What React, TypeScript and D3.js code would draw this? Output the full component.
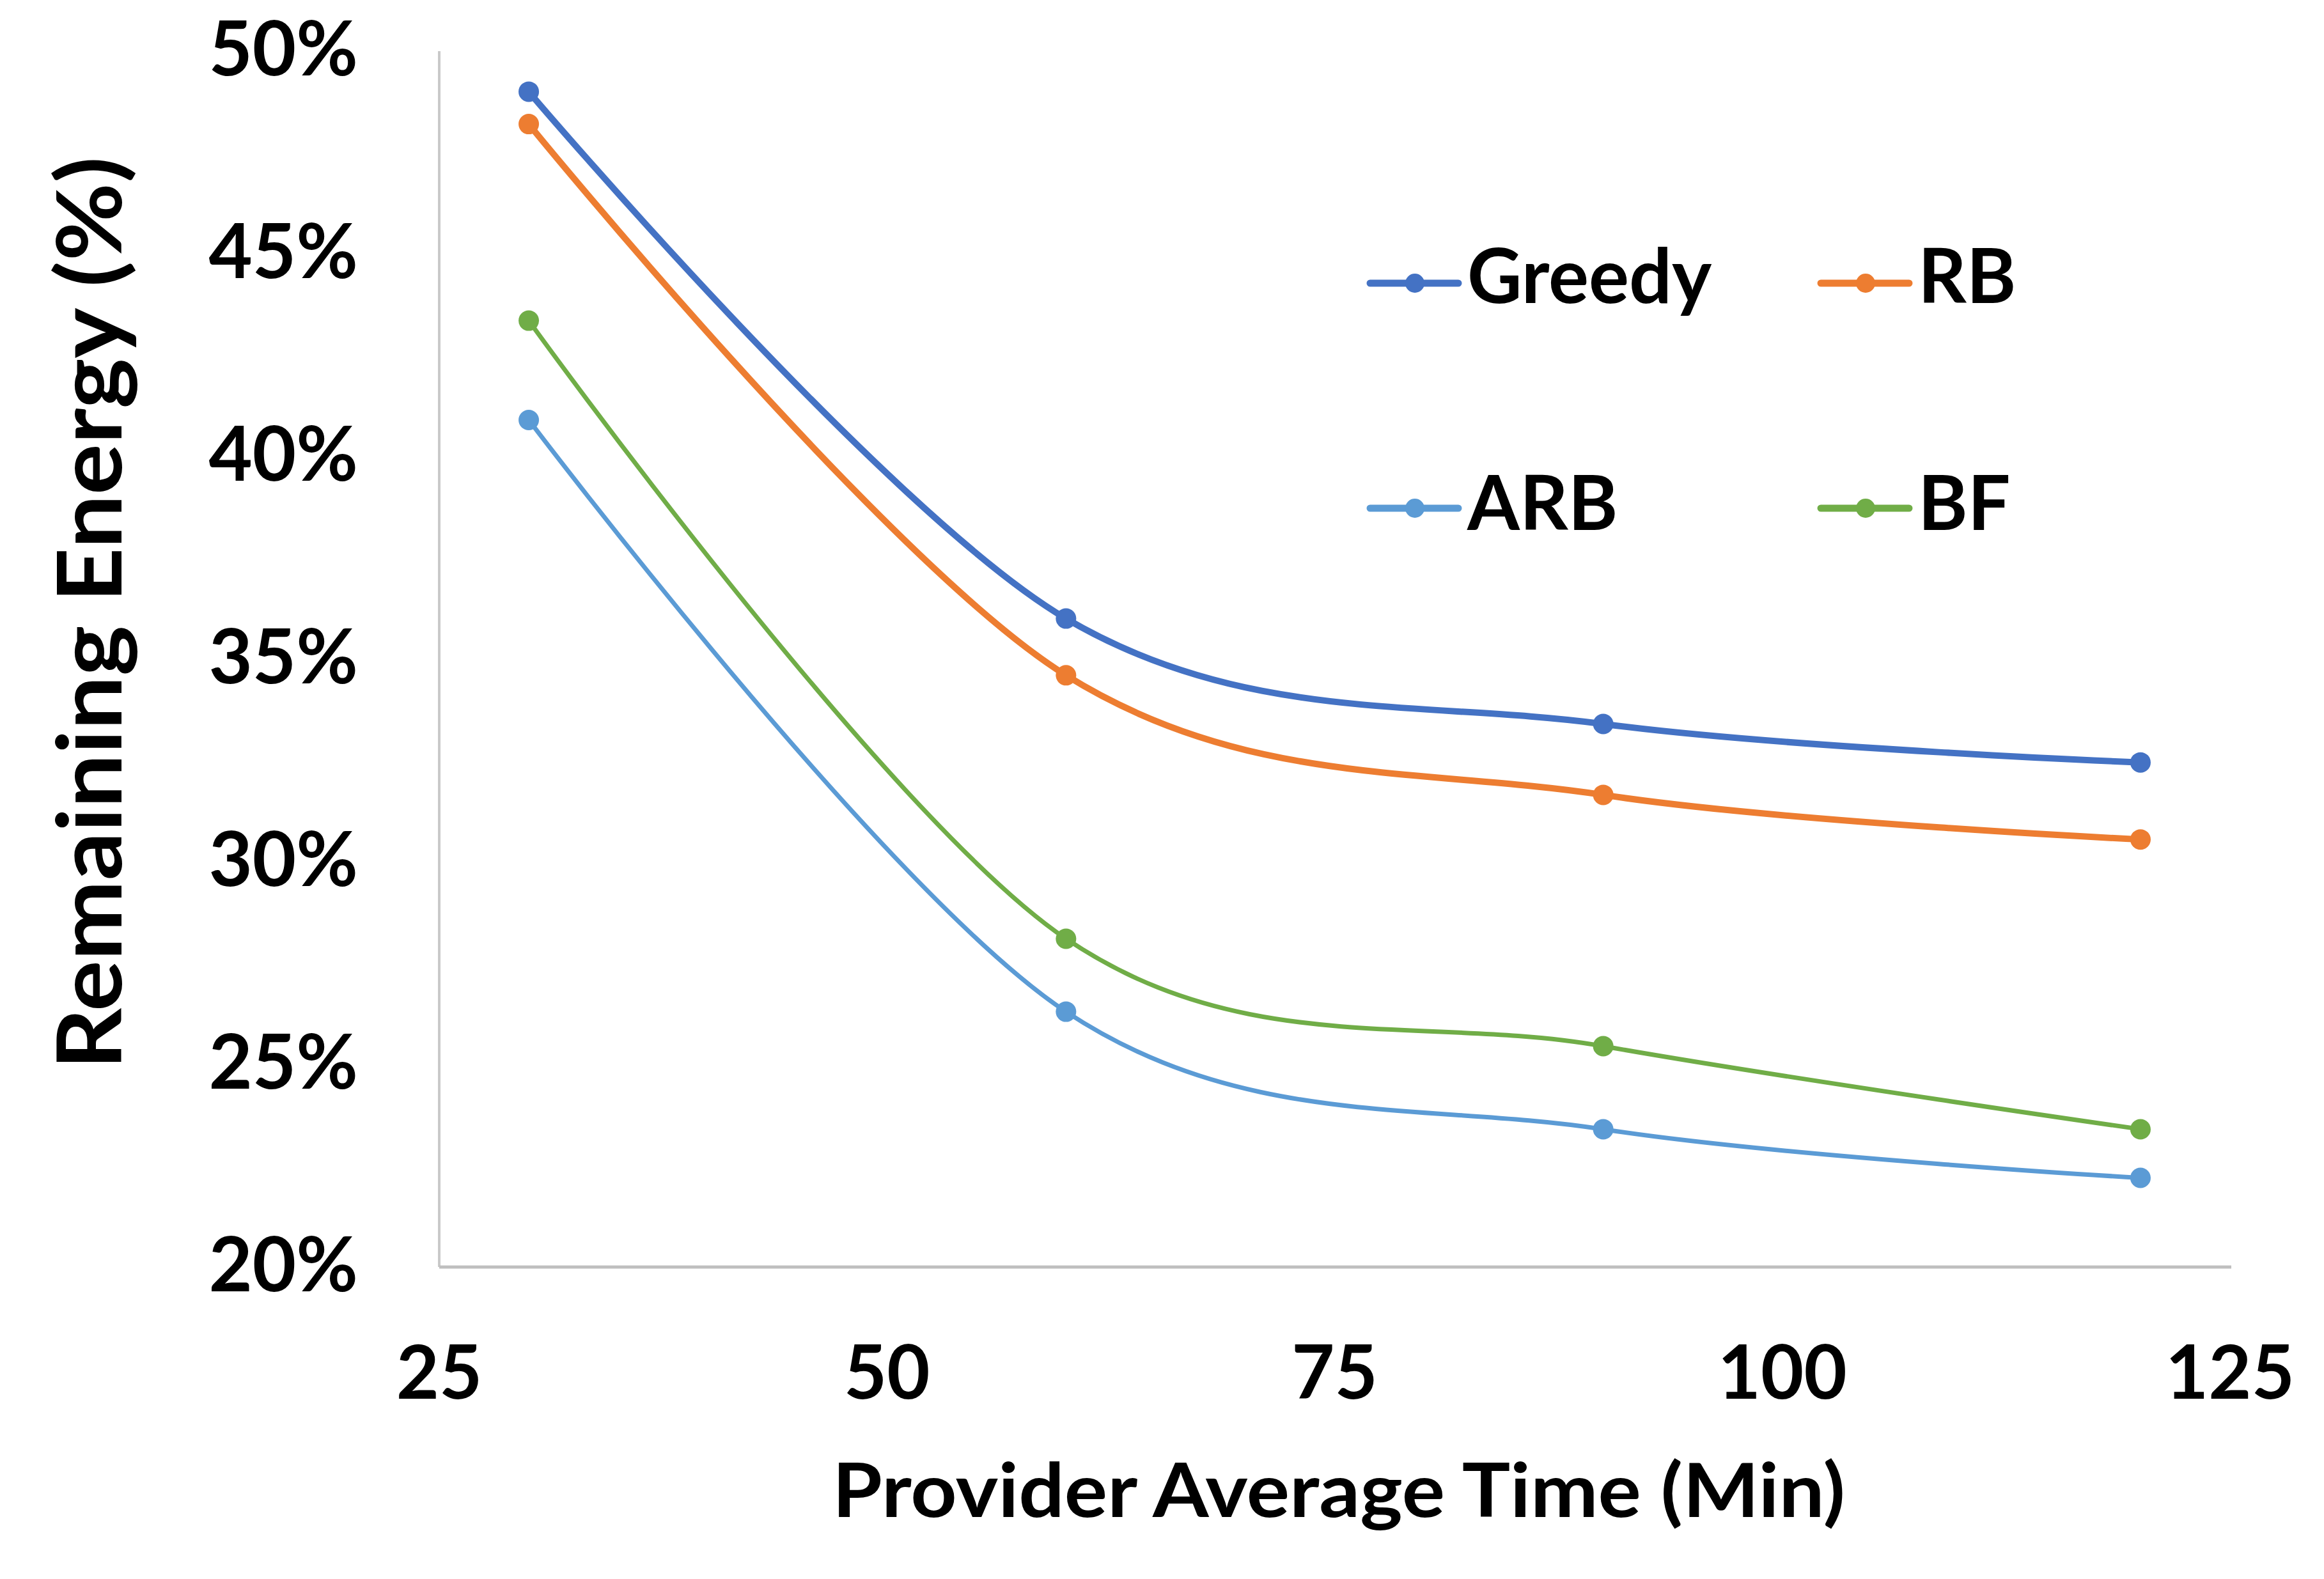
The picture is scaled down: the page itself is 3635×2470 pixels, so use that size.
import * as d3 from 'd3';

const W = 3635, H = 2470;

const times = [30, 60, 90, 120];
const greedy = [49.0, 36.0, 33.4, 32.45];
const rb = [48.2, 34.6, 31.65, 30.55];
const arb = [40.9, 26.3, 23.4, 22.2];
const bf = [43.35, 28.1, 25.45, 23.4];

const xTicks = [25, 50, 75, 100, 125];
const yTicks = [20, 25, 30, 35, 40, 45, 50];

const SERIES = [
  { name: 'Greedy', values: greedy, color: '#4472C4', width: 10 },
  { name: 'RB',     values: rb,     color: '#ED7D31', width: 10 },
  { name: 'ARB',    values: arb,    color: '#5B9BD5', width: 7 },
  { name: 'BF',     values: bf,     color: '#70AD47', width: 7 },
];

const FONT = 'Lato, "Open Sans", "Noto Sans", sans-serif';

export default function App() {
  const PAD = { t: 80, r: 3490, b: 1982, l: 687 };
  const x = d3.scaleLinear().domain([25, 125]).range([PAD.l, 3488]);
  const y = d3.scaleLinear().domain([20, 50]).range([PAD.b, PAD.t]);

  const line = d3.line<number>()
    .x((_, i) => x(times[i]))
    .y(d => y(d))
    .curve(d3.curveCardinal.tension(0));

  // legend slots: 2 columns x 2 rows
  const legendPos = [
    { lx: 2143, tx: 2295, ly: 443, ty: 474 },
    { lx: 2848, tx: 3000, ly: 443, ty: 474 },
    { lx: 2143, tx: 2295, ly: 795, ty: 829 },
    { lx: 2848, tx: 3000, ly: 795, ty: 829 },
  ];

  return (
    <svg width={W} height={H} viewBox={`0 0 ${W} ${H}`}
      style={{ position: 'absolute', left: 0, top: 0, background: '#fff' }}
      fontFamily={FONT} fontWeight={700}>
      <rect width={W} height={H} fill="#fff" />

      {/* axes */}
      <line x1={PAD.l} x2={PAD.l} y1={PAD.t} y2={PAD.b} stroke="#C9C9C9" strokeWidth={4} />
      <line x1={PAD.l} x2={PAD.r} y1={PAD.b} y2={PAD.b} stroke="#BFBFBF" strokeWidth={5} />

      {yTicks.map(t => (
        <text key={t} x={560} y={y(t) + 38} textAnchor="end" fontSize={118} fill="#000">{`${t}%`}</text>
      ))}
      {xTicks.map(t => (
        <text key={t} x={x(t)} y={2188} textAnchor="middle" fontSize={116} fill="#000">{t}</text>
      ))}

      <text x={2094} y={2373} textAnchor="middle" fontSize={116} textLength={1584}
        lengthAdjust="spacingAndGlyphs" fill="#000">Provider Average Time (Min)</text>
      <text transform={`translate(190,959) rotate(-90)`} textAnchor="middle" fontSize={140}
        textLength={1428} lengthAdjust="spacingAndGlyphs" fill="#000">Remaining Energy (%)</text>

      {/* series */}
      {SERIES.map(s => (
        <g key={s.name}>
          <path d={line(s.values) ?? ''} fill="none" stroke={s.color} strokeWidth={s.width} strokeLinecap="round" />
          {s.values.map((v, i) => (
            <circle key={i} cx={x(times[i])} cy={y(v)} r={16} fill={s.color} />
          ))}
        </g>
      ))}

      {/* legend */}
      {SERIES.map((s, i) => {
        const p = legendPos[i];
        return (
          <g key={s.name}>
            <line x1={p.lx} x2={p.lx + 138} y1={p.ly} y2={p.ly} stroke={s.color} strokeWidth={11} strokeLinecap="round" />
            <circle cx={p.lx + 70} cy={p.ly} r={15} fill={s.color} />
            <text x={p.tx} y={p.ty} fontSize={118} fill="#000">{s.name}</text>
          </g>
        );
      })}
    </svg>
  );
}
